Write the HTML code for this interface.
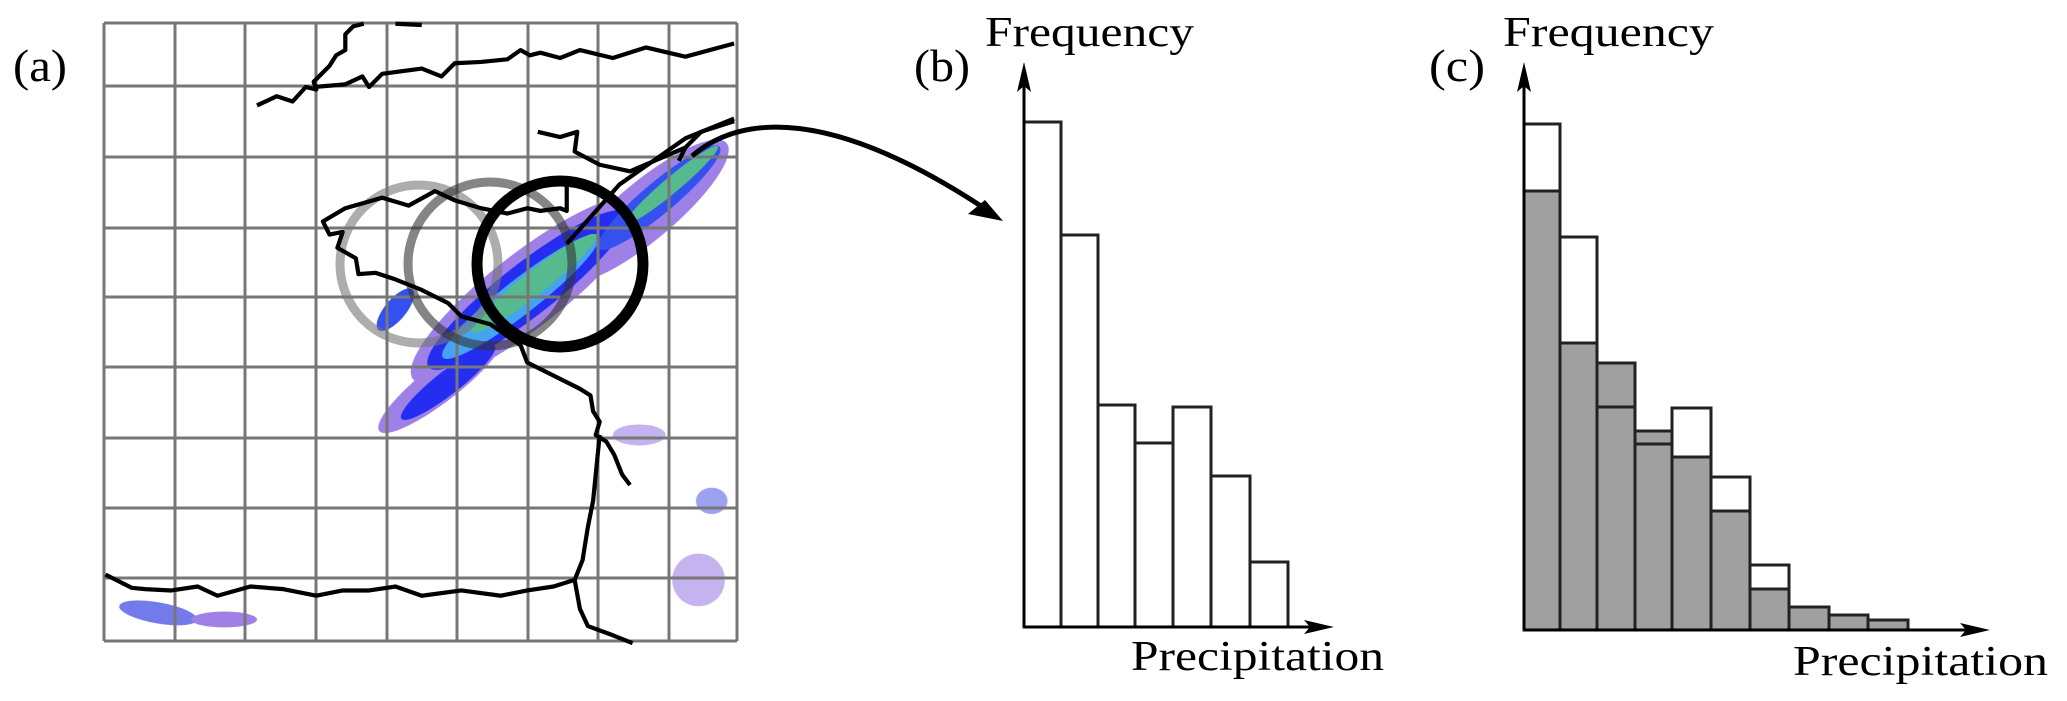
<!DOCTYPE html>
<html><head><meta charset="utf-8"><style>
html,body{margin:0;padding:0;background:#fff;width:2067px;height:701px;overflow:hidden}
text{font-family:"Liberation Serif","Times New Roman",serif;fill:#000}
</style></head><body>
<svg width="2067" height="701" viewBox="0 0 2067 701" xmlns="http://www.w3.org/2000/svg" font-family="Liberation Serif, serif">
<rect width="2067" height="701" fill="#fff"/>
<g transform="scale(1.318)">
 <g opacity="0.95">
  <ellipse cx="335" cy="290" rx="60" ry="14" transform="rotate(-38 335 290)" fill="#9a7ae6"/>
  <ellipse cx="400" cy="220" rx="110" ry="28" transform="rotate(-38 400 220)" fill="#9a7ae6"/>
  <ellipse cx="490" cy="160" rx="80" ry="22" transform="rotate(-40 490 160)" fill="#9a7ae6"/>
  <ellipse cx="400" cy="220" rx="95" ry="20" transform="rotate(-38 400 220)" fill="#1a22f0"/>
  <ellipse cx="340" cy="290" rx="45" ry="9" transform="rotate(-38 340 290)" fill="#1a22f0"/>
  <ellipse cx="500" cy="150" rx="60" ry="12" transform="rotate(-40 500 150)" fill="#2a48f0"/>
  <ellipse cx="395" cy="225" rx="75" ry="13" transform="rotate(-38 395 225)" fill="#3aa0f0"/>
  <ellipse cx="405" cy="215" rx="60" ry="9" transform="rotate(-38 405 215)" fill="#4cb88a"/>
  <ellipse cx="510" cy="140" rx="45" ry="6" transform="rotate(-40 510 140)" fill="#4cb88a"/>
  <ellipse cx="300" cy="235" rx="20" ry="8" transform="rotate(-50 300 235)" fill="#2a48f0"/>
  <ellipse cx="120" cy="465" rx="30" ry="8" transform="rotate(10 120 465)" fill="#6b74e8"/>
  <ellipse cx="170" cy="470" rx="25" ry="6" fill="#9a7ae6"/>
  <ellipse cx="530" cy="440" rx="20" ry="20" fill="#9a7ae6" opacity="0.6"/>
  <ellipse cx="540" cy="380" rx="12" ry="10" fill="#6b74e8" opacity="0.7"/>
  <ellipse cx="485" cy="330" rx="20" ry="8" fill="#9a7ae6" opacity="0.6"/>
 </g>
</g>
<g stroke="#777" stroke-width="3">
 <line x1="104" y1="23" x2="104" y2="641"/><line x1="175" y1="23" x2="175" y2="641"/>
 <line x1="245" y1="23" x2="245" y2="641"/><line x1="316" y1="23" x2="316" y2="641"/>
 <line x1="387" y1="23" x2="387" y2="641"/><line x1="457" y1="23" x2="457" y2="641"/>
 <line x1="528" y1="23" x2="528" y2="641"/><line x1="598" y1="23" x2="598" y2="641"/>
 <line x1="669" y1="23" x2="669" y2="641"/><line x1="737" y1="23" x2="737" y2="641"/>
 <line x1="104" y1="23" x2="737" y2="23"/><line x1="104" y1="86" x2="737" y2="86"/>
 <line x1="104" y1="157" x2="737" y2="157"/><line x1="104" y1="228" x2="737" y2="228"/>
 <line x1="104" y1="297" x2="737" y2="297"/><line x1="104" y1="367" x2="737" y2="367"/>
 <line x1="104" y1="438" x2="737" y2="438"/><line x1="104" y1="508" x2="737" y2="508"/>
 <line x1="104" y1="578" x2="737" y2="578"/><line x1="104" y1="641" x2="737" y2="641"/>
</g>
<circle cx="419" cy="264" r="79" fill="none" stroke="#777" stroke-opacity="0.6" stroke-width="9"/>
<circle cx="490" cy="264" r="82" fill="none" stroke="#333" stroke-opacity="0.6" stroke-width="9"/>
<circle cx="560" cy="264" r="83" fill="none" stroke="#000" stroke-width="11"/>
<g transform="scale(1.318)" fill="none" stroke="#000" stroke-width="3.2" stroke-linejoin="round">
 <path d="M195 80 L210 73 L222 77 L232 66 L240 68 L238 62 L250 50 L255 42 L262 38 L262 26 L268 20 L276 18 M238 66 L262 64 L275 58 L280 66 L290 56 L320 52 L335 58 L345 48 L365 47 L385 45 L395 38 L402 42 L410 40 L425 44 L440 38 L465 44 L490 36 L520 43 L557 33"/>
 <path d="M300 18 L320 19"/>
 <path d="M557 92 L532 100 L520 112 L515 122 M408 100 L425 104 L438 100 L436 115 L455 125 L478 130 L520 112 M430 135 L430 160 L425 158 L410 160 L400 158 L385 162 L365 158 L345 152 L330 145 L310 156 L290 150 L262 158 L245 168 L250 178 L260 176 L256 188 L270 196 L272 208 L285 207 L300 212 L320 220 L340 230 L350 240 L372 246 L385 255 L395 262 L400 275 L420 285 L440 295 L448 300 L450 312 L455 320 L452 330 L460 335 L466 345 L472 360 L478 368"/>
 <path d="M430 185 L470 140 L520 105 L557 90"/>
 <path d="M455 330 L450 380 L446 400 L442 425 L436 440 L420 445 L400 448 L380 452 L350 448 L320 452 L300 445 L280 448 L260 448 L240 452 L215 447 L190 445 L165 452 L150 445 L130 448 L110 447 L100 446 L88 440 L80 436 M436 440 L440 462 L446 475 L465 482 L480 488"/>
</g>
<text x="13" y="81" font-size="46" textLength="54" lengthAdjust="spacingAndGlyphs">(a)</text>
<path d="M692 156 C 740 115, 830 105, 990 212" fill="none" stroke="#000" stroke-width="5"/>
<polygon points="1003,221 968,214 985,200 " fill="#000"/>
<text x="914" y="81" font-size="46" textLength="56" lengthAdjust="spacingAndGlyphs">(b)</text>
<text x="985" y="46" font-size="42" textLength="209" lengthAdjust="spacingAndGlyphs">Frequency</text>
<text x="1131" y="670" font-size="42" textLength="253" lengthAdjust="spacingAndGlyphs">Precipitation</text>
<g fill="#fff" stroke="#222" stroke-width="3">
 <rect x="1024" y="122" width="37" height="505"/>
 <rect x="1061" y="235" width="37" height="392"/>
 <rect x="1098" y="405" width="37" height="222"/>
 <rect x="1135" y="443" width="38" height="184"/>
 <rect x="1173" y="407" width="38" height="220"/>
 <rect x="1211" y="476" width="39" height="151"/>
 <rect x="1250" y="562" width="38" height="65"/>
</g>
<line x1="1024" y1="627" x2="1024" y2="75" stroke="#000" stroke-width="3"/>
<polygon points="1024,62 1017,92 1024,86 1031,92" fill="#000"/>
<line x1="1024" y1="627" x2="1320" y2="627" stroke="#000" stroke-width="3"/>
<polygon points="1334,627 1304,620 1310,627 1304,634" fill="#000"/>
<text x="1429" y="81" font-size="46" textLength="56" lengthAdjust="spacingAndGlyphs">(c)</text>
<text x="1503" y="46" font-size="42" textLength="211" lengthAdjust="spacingAndGlyphs">Frequency</text>
<text x="1793" y="675" font-size="42" textLength="255" lengthAdjust="spacingAndGlyphs">Precipitation</text>
<g stroke="#222" stroke-width="3">
 <rect x="1524" y="124" width="36" height="506" fill="#fff"/>
 <rect x="1560" y="237" width="37" height="393" fill="#fff"/>
 <rect x="1672" y="408" width="39" height="222" fill="#fff"/>
 <rect x="1711" y="477" width="39" height="153" fill="#fff"/>
 <rect x="1750" y="565" width="39" height="65" fill="#fff"/>
 <rect x="1524" y="191" width="36" height="439" fill="#a0a0a0"/>
 <rect x="1560" y="343" width="37" height="287" fill="#a0a0a0"/>
 <rect x="1597" y="363" width="38" height="267" fill="#a0a0a0"/>
 <rect x="1635" y="431" width="37" height="199" fill="#a0a0a0"/>
 <rect x="1672" y="457" width="39" height="173" fill="#a0a0a0"/>
 <rect x="1711" y="511" width="39" height="119" fill="#a0a0a0"/>
 <rect x="1750" y="589" width="39" height="41" fill="#a0a0a0"/>
 <rect x="1789" y="607" width="40" height="23" fill="#a0a0a0"/>
 <rect x="1829" y="615" width="39" height="15" fill="#a0a0a0"/>
 <rect x="1868" y="620" width="40" height="10" fill="#a0a0a0"/>
 <line x1="1597" y1="407" x2="1635" y2="407"/>
 <line x1="1635" y1="444" x2="1672" y2="444"/>
</g>
<line x1="1524" y1="630" x2="1524" y2="75" stroke="#000" stroke-width="3"/>
<polygon points="1524,62 1517,92 1524,86 1531,92" fill="#000"/>
<line x1="1524" y1="630" x2="1976" y2="630" stroke="#000" stroke-width="3"/>
<polygon points="1990,630 1960,623 1966,630 1960,637" fill="#000"/>
</svg>
</body></html>
